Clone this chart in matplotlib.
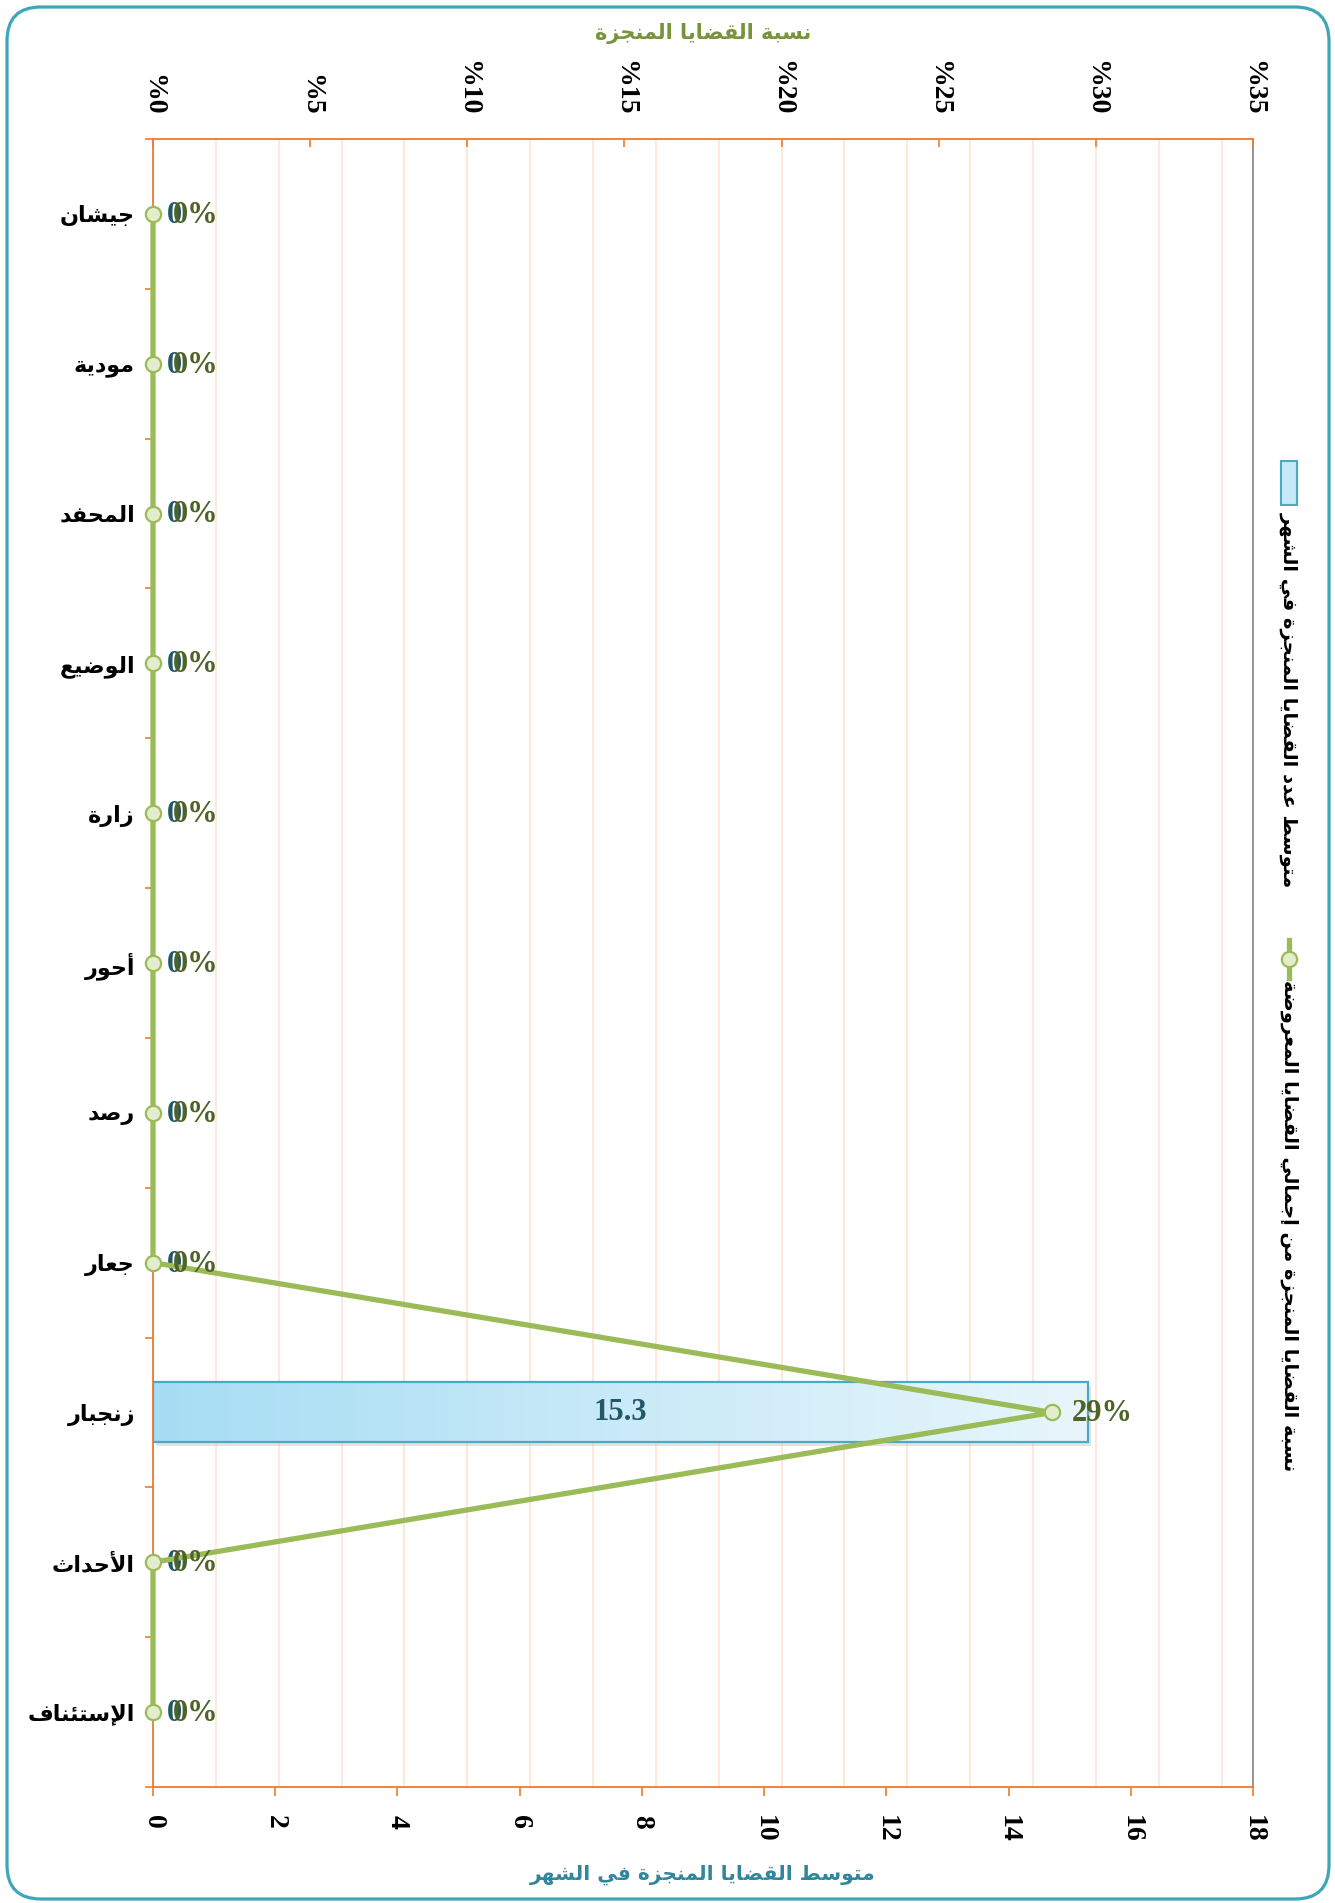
import numpy as np
import matplotlib
matplotlib.use("Agg")
import matplotlib.pyplot as plt
from matplotlib.patches import FancyBboxPatch, Rectangle
from matplotlib.lines import Line2D
from matplotlib.transforms import IdentityTransform
from matplotlib.colors import LinearSegmentedColormap
import matplotlib.patheffects as pe

# ---------------- data ----------------
categories = ["جيشان", "مودية", "المحفد", "الوضيع", "زارة", "أحور", "رصد",
              "جعار", "زنجبار", "الأحداث", "الإستئناف"]
avg_completed = [0, 0, 0, 0, 0, 0, 0, 0, 15.3, 0, 0]          # bars (bottom axis)
pct_completed = [0, 0, 0, 0, 0, 0, 0, 0, 0.286, 0, 0]         # line (top axis)
pct_labels = ["0%", "0%", "0%", "0%", "0%", "0%", "0%", "0%", "29%", "0%", "0%"]
bar_ticks = [0, 2, 4, 6, 8, 10, 12, 14, 16, 18]
pct_ticks = [0, 5, 10, 15, 20, 25, 30, 35]
pct_tick_labels = ["%0", "%5", "%10", "%15", "%20", "%25", "%30", "%35"]
pct_grid_step = 2
title_top = "نسبة القضايا المنجزة"
title_bottom = "متوسط القضايا المنجزة في الشهر"
legend_bar = "متوسط عدد القضايا المنجزة في الشهر"
legend_line = "نسبة القضايا المنجزة من إجمالي القضايا المعروضة"

# ---------------- minimal Arabic shaping ----------------
_blocks = [("ء", 0xFE80, 1), ("آ", 0xFE81, 2), ("أ", 0xFE83, 2), ("ؤ", 0xFE85, 2),
           ("إ", 0xFE87, 2), ("ئ", 0xFE89, 4), ("ا", 0xFE8D, 2), ("ب", 0xFE8F, 4),
           ("ة", 0xFE93, 2), ("ت", 0xFE95, 4), ("ث", 0xFE99, 4), ("ج", 0xFE9D, 4),
           ("ح", 0xFEA1, 4), ("خ", 0xFEA5, 4), ("د", 0xFEA9, 2), ("ذ", 0xFEAB, 2),
           ("ر", 0xFEAD, 2), ("ز", 0xFEAF, 2), ("س", 0xFEB1, 4), ("ش", 0xFEB5, 4),
           ("ص", 0xFEB9, 4), ("ض", 0xFEBD, 4), ("ط", 0xFEC1, 4), ("ظ", 0xFEC5, 4),
           ("ع", 0xFEC9, 4), ("غ", 0xFECD, 4), ("ف", 0xFED1, 4), ("ق", 0xFED5, 4),
           ("ك", 0xFED9, 4), ("ل", 0xFEDD, 4), ("م", 0xFEE1, 4), ("ن", 0xFEE5, 4),
           ("ه", 0xFEE9, 4), ("و", 0xFEED, 2), ("ى", 0xFEEF, 2), ("ي", 0xFEF1, 4)]
FORMS = {c: [chr(s + k) for k in range(n)] for c, s, n in _blocks}
LAM_ALEF = {"آ": ("\uFEF5", "\uFEF6"), "أ": ("\uFEF7", "\uFEF8"),
            "إ": ("\uFEF9", "\uFEFA"), "ا": ("\uFEFB", "\uFEFC")}


def ar(text):
    items = []
    i = 0
    while i < len(text):
        c = text[i]
        if c == "ل" and i + 1 < len(text) and text[i + 1] in LAM_ALEF:
            items.append(("LA", text[i + 1]))
            i += 2
        else:
            items.append((c, None))
            i += 1

    def is_ar(it):
        return it[0] == "LA" or it[0] in FORMS

    def dual(it):
        return it[0] in FORMS and len(FORMS[it[0]]) == 4

    out = []
    for k, it in enumerate(items):
        if not is_ar(it):
            out.append(it[0])
            continue
        cp = k > 0 and dual(items[k - 1])
        cn = k + 1 < len(items) and is_ar(items[k + 1]) and dual(it)
        if it[0] == "LA":
            out.append(LAM_ALEF[it[1]][1 if cp else 0])
            continue
        f = FORMS[it[0]]
        if cp and cn:
            g = f[3]
        elif cp:
            g = f[1] if len(f) > 1 else f[0]
        elif cn:
            g = f[2]
        else:
            g = f[0]
        out.append(g)
    return "".join(reversed(out))


# ---------------- style ----------------
plt.rcParams["font.family"] = ["DejaVu Sans"]
SERIF = ["Liberation Serif", "DejaVu Serif"]
ORANGE = "#EE7B30"
GRID = "#FDE6D6"
GREEN = "#9BBB59"
W, H = 1335, 1903

fig = plt.figure(figsize=(W / 100, H / 100), dpi=100)
fig.patch.set_facecolor("white")

L, R, T, B = 153, 1253, 139, 1787
rect = [L / W, 1 - B / H, (R - L) / W, (B - T) / H]

n = len(categories)
ypos = np.arange(n)

# grid layer (secondary scale)
axg = fig.add_axes(rect, zorder=0)
axg.set_xlim(0, pct_ticks[-1] / 100)
axg.set_ylim(n - 0.5, -0.5)
axg.set_xticks(np.arange(0, pct_ticks[-1] + 0.01, pct_grid_step) / 100)
axg.set_yticks([])
axg.grid(True, axis="x", color=GRID, lw=1.3)
axg.tick_params(length=0, labelbottom=False)
for s in axg.spines.values():
    s.set_visible(False)

# primary axes: bars
ax = fig.add_axes(rect, zorder=1)
ax.patch.set_visible(False)

base = ax.barh(ypos, avg_completed, height=0.4, color="#BFE6F6", edgecolor="none", zorder=2)
for p, v in zip(base, avg_completed):
    if v > 0:
        p.set_path_effects([pe.SimplePatchShadow(offset=(2.5, -2.5), shadow_rgbFace="#b0b0b0", alpha=0.35),
                            pe.Normal()])
    else:
        p.set_visible(False)

grad = np.linspace(0, 1, 256).reshape(1, -1)
cmap = LinearSegmentedColormap.from_list("bargrad", ["#A6DDF4", "#C9EAF8", "#E8F6FC"])
for p, v in zip(base, avg_completed):
    if v > 0:
        x0, y0, w_, h_ = p.get_x(), p.get_y(), p.get_width(), p.get_height()
        im = ax.imshow(grad, cmap=cmap, extent=(x0, x0 + w_, y0 + h_, y0), aspect="auto", zorder=3)
        im.set_clip_path(p)

outline = ax.barh(ypos, avg_completed, height=0.4, color="none", edgecolor="#4BA9C4", lw=1.6, zorder=4)
for p, v in zip(outline, avg_completed):
    if v <= 0:
        p.set_visible(False)

ax.set_xlim(bar_ticks[0], bar_ticks[-1])
ax.set_ylim(n - 0.5, -0.5)
ax.set_xticks(bar_ticks)
ax.set_xticklabels([str(t) for t in bar_ticks], rotation=-90, family=SERIF,
                   fontweight="bold", fontsize=20)
ax.tick_params(axis="x", direction="out", length=6.5, width=1.2, color=ORANGE, pad=14)
ax.set_yticks(ypos)
ax.set_yticklabels([ar(c) for c in categories], fontsize=16, fontweight="bold")
ax.tick_params(axis="y", which="major", length=0, pad=13)
ax.set_yticks(np.arange(-0.5, n, 1), minor=True)
ax.tick_params(axis="y", which="minor", direction="out", length=6, width=1.2, color=ORANGE)

for sp in ("left", "bottom"):
    ax.spines[sp].set_color(ORANGE)
    ax.spines[sp].set_linewidth(1.3)
ax.spines["top"].set_visible(False)
ax.spines["right"].set_color("#8C8C8C")
ax.spines["right"].set_linewidth(1.3)

# bar labels
for yi, v in zip(ypos, avg_completed):
    txt = f"{v:g}"
    if v > 0:
        ax.text(v / 2, yi, txt, ha="center", va="center", family=SERIF, fontweight="bold",
                fontsize=22, color="#215968", zorder=6)
    else:
        ax.annotate(txt, (v, yi), xytext=(10, -1), textcoords="offset points", ha="left",
                    va="center", family=SERIF, fontweight="bold", fontsize=22,
                    color="#215968", zorder=6)

ax.set_xlabel(ar(title_bottom), fontsize=14.5, fontweight="bold", color="#31859C", va="center")
ax.xaxis.set_label_coords(0.5, -(1875 - B) / (B - T))

# secondary axes: line
ax2 = ax.twiny()
ax2.patch.set_visible(False)
ax2.plot(pct_completed, ypos, color=GREEN, lw=3.8, marker="o", ms=11,
         mfc="#E3ECCC", mec=GREEN, mew=1.6, clip_on=False, zorder=5, solid_joinstyle="miter")
ax2.set_xlim(pct_ticks[0] / 100, pct_ticks[-1] / 100)
ax2.set_ylim(n - 0.5, -0.5)
ax2.set_xticks(np.array(pct_ticks) / 100)
ax2.set_xticklabels(pct_tick_labels, rotation=-90, family=SERIF, fontweight="bold", fontsize=20)
ax2.tick_params(axis="x", direction="in", length=5.5, width=1.2, color=ORANGE, pad=17)
for sp in ("left", "bottom", "right"):
    ax2.spines[sp].set_visible(False)
ax2.spines["top"].set_color(ORANGE)
ax2.spines["top"].set_linewidth(1.3)

for yi, v, lab in zip(ypos, pct_completed, pct_labels):
    ax2.annotate(lab, (v, yi), xytext=(14, -1), textcoords="offset points", ha="left",
                 va="center", family=SERIF, fontweight="bold", fontsize=22,
                 color="#4F6228", zorder=7)

ax2.set_xlabel(ar(title_top), fontsize=15, fontweight="bold", color="#77933C", va="center")
ax2.xaxis.set_label_coords(0.5, 1 + (T - 34) / (B - T))

# ---------------- legend (rotated, manual) ----------------
idt = IdentityTransform()
lx = 1289
fig.add_artist(Rectangle((lx - 8, H - 505), 16, 44, transform=idt, facecolor="#C6E9F7",
                         edgecolor="#4BA9C4", lw=1.5))
fig.text(lx / W, 1 - 512 / H, ar(legend_bar), rotation=-90, ha="center", va="top",
         fontsize=14, fontweight="bold")
fig.add_artist(Line2D([lx, lx], [H - 940, H - 978], transform=idt, color=GREEN, lw=3.8))
fig.add_artist(Line2D([lx], [H - 959], transform=idt, marker="o", ms=11, mfc="#E3ECCC",
                      mec=GREEN, mew=1.6, ls="none"))
fig.text(lx / W, 1 - 980 / H, ar(legend_line), rotation=-90, ha="center", va="top",
         fontsize=14, fontweight="bold")

# ---------------- outer rounded frame ----------------
fig.add_artist(FancyBboxPatch((7, H - 1899), 1322, 1892,
                              boxstyle="round,pad=0,rounding_size=34", transform=idt,
                              fill=False, edgecolor="#3FA5B8", lw=2.3))

fig.savefig("out.png", dpi=100)
